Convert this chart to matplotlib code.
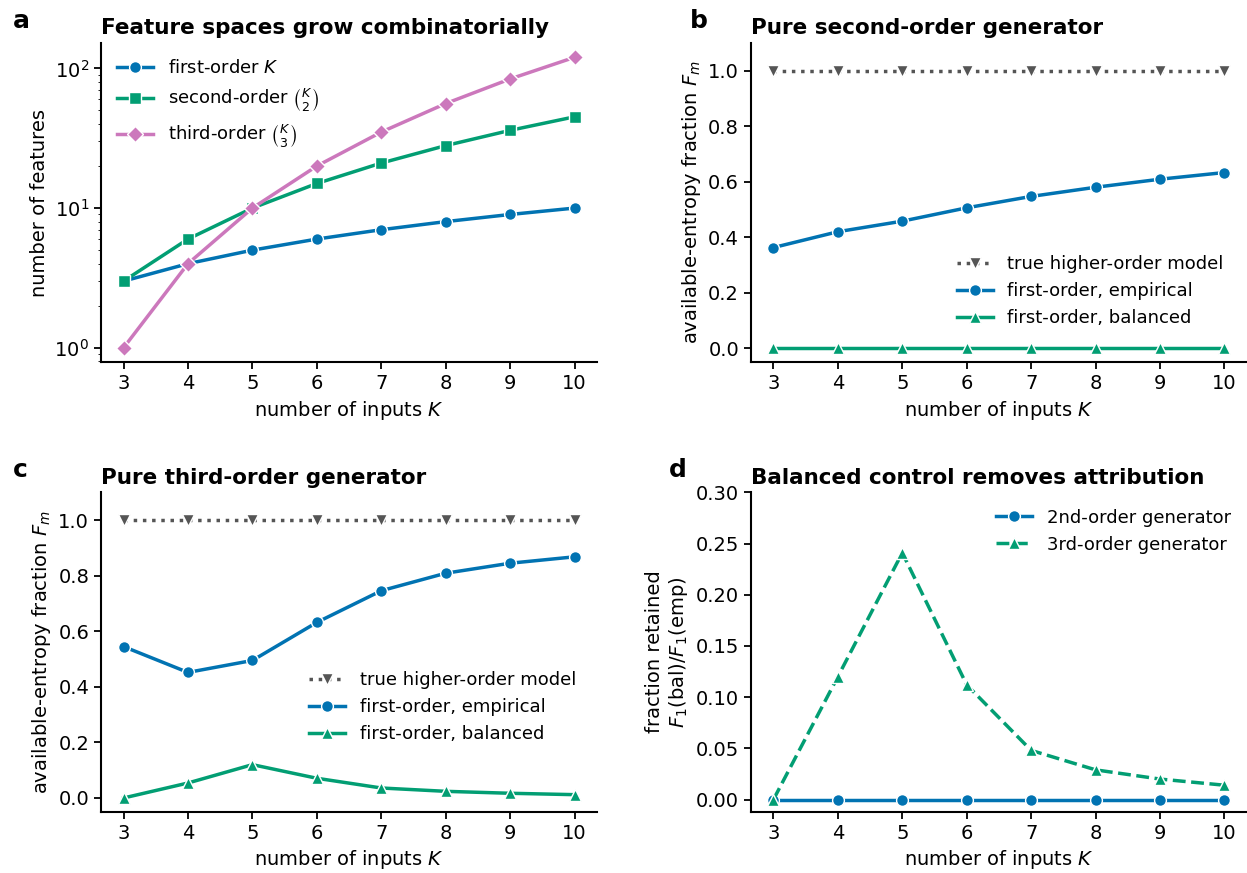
import matplotlib
matplotlib.use("Agg")
import matplotlib.pyplot as plt

K = [3, 4, 5, 6, 7, 8, 9, 10]

# panel a: feature counts
first_order = [3, 4, 5, 6, 7, 8, 9, 10]
second_order = [3, 6, 10, 15, 21, 28, 36, 45]
third_order = [1, 4, 10, 20, 35, 56, 84, 120]

# panel b: pure second-order generator
b_true = [1.0, 1.0, 1.0, 1.0, 1.0, 1.0, 1.0, 1.0]
b_emp = [0.363, 0.420, 0.458, 0.506, 0.547, 0.580, 0.609, 0.633]
b_bal = [0.0, 0.0, 0.0, 0.0, 0.0, 0.0, 0.0, 0.0]

# panel c: pure third-order generator
c_true = [1.0, 1.0, 1.0, 1.0, 1.0, 1.0, 1.0, 1.0]
c_emp = [0.545, 0.452, 0.495, 0.632, 0.746, 0.809, 0.845, 0.868]
c_bal = [0.0, 0.054, 0.120, 0.071, 0.036, 0.024, 0.017, 0.012]

# panel d: fraction retained
d_second = [0.0, 0.0, 0.0, 0.0, 0.0, 0.0, 0.0, 0.0]
d_third = [0.0, 0.120, 0.241, 0.112, 0.048, 0.029, 0.020, 0.014]

BLUE = "#0173B2"
GREEN = "#029E73"
PINK = "#CC78BC"
GREY = "#555555"

plt.rcParams["font.size"] = 14
plt.rcParams["axes.labelsize"] = 14
plt.rcParams["xtick.labelsize"] = 14
plt.rcParams["ytick.labelsize"] = 14
plt.rcParams["legend.fontsize"] = 13
plt.rcParams["axes.spines.top"] = False
plt.rcParams["axes.spines.right"] = False
plt.rcParams["axes.linewidth"] = 1.5
plt.rcParams["xtick.major.width"] = 1.3
plt.rcParams["ytick.major.width"] = 1.3
plt.rcParams["xtick.major.size"] = 5
plt.rcParams["ytick.major.size"] = 5


def style(color, marker, ls="-"):
    return dict(color=color, marker=marker, linestyle=ls, linewidth=2.5,
                markersize=8.5, markeredgecolor="white", markeredgewidth=1)


def main():

    fig, axes = plt.subplots(2, 2, figsize=(12.47, 8.73), dpi=100)
    fig.subplots_adjust(left=0.081, right=1.0, top=0.951, bottom=0.07,
                        wspace=0.31, hspace=0.407)

    ax = axes[0, 0]
    ax.plot(K, first_order, label="first-order $K$", **style(BLUE, "o"))
    ax.plot(K, second_order, label=r"second-order $\binom{K}{2}$",
            **style(GREEN, "s"))
    ax.plot(K, third_order, label=r"third-order $\binom{K}{3}$",
            **style(PINK, "D"))
    ax.set_yscale("log")
    ax.set_xlabel("number of inputs $K$")
    ax.set_ylabel("number of features")
    ax.set_title("Feature spaces grow combinatorially", fontweight="bold",
                 fontsize=15.5, loc="left")
    ax.legend(loc="upper left", frameon=False)

    for ax, true, emp, bal, title, leg_x, leg_y in [
        (axes[0, 1], b_true, b_emp, b_bal, "Pure second-order generator",
         0.986, 0.223),
        (axes[1, 0], c_true, c_emp, c_bal, "Pure third-order generator",
         0.99, 0.328),
    ]:
        ax.plot(K, true, label="true higher-order model",
                **style(GREY, "v", ":"))
        ax.plot(K, emp, label="first-order, empirical", **style(BLUE, "o"))
        ax.plot(K, bal, label="first-order, balanced", **style(GREEN, "^"))
        ax.set_ylim(-0.05, 1.1)
        ax.set_xlabel("number of inputs $K$")
        ax.set_ylabel("available-entropy fraction $F_m$")
        ax.set_title(title, fontweight="bold", fontsize=15.5, loc="left")
        ax.legend(loc="center right", bbox_to_anchor=(leg_x, leg_y),
                  frameon=False)

    ax = axes[1, 1]
    ax.plot(K, d_second, label="2nd-order generator", **style(BLUE, "o"))
    ax.plot(K, d_third, label="3rd-order generator",
            **style(GREEN, "^", "--"))
    ax.set_ylim(top=0.30)
    ax.set_xlabel("number of inputs $K$")
    ax.set_ylabel("fraction retained\n$F_1$(bal)/$F_1$(emp)")
    ax.set_title("Balanced control removes attribution", fontweight="bold",
                 fontsize=15.5, loc="left")
    ax.legend(loc="upper right", frameon=False)

    for ax in axes.flat:
        ax.set_xticks(K)

    for letter, x, y in [("a", 0.010, 0.968), ("b", 0.553, 0.968),
                         ("c", 0.010, 0.454), ("d", 0.536, 0.454)]:
        fig.text(x, y, letter, fontsize=18, fontweight="bold")

    fig.savefig("out.png", dpi=100)


if __name__ == "__main__":
    main()
